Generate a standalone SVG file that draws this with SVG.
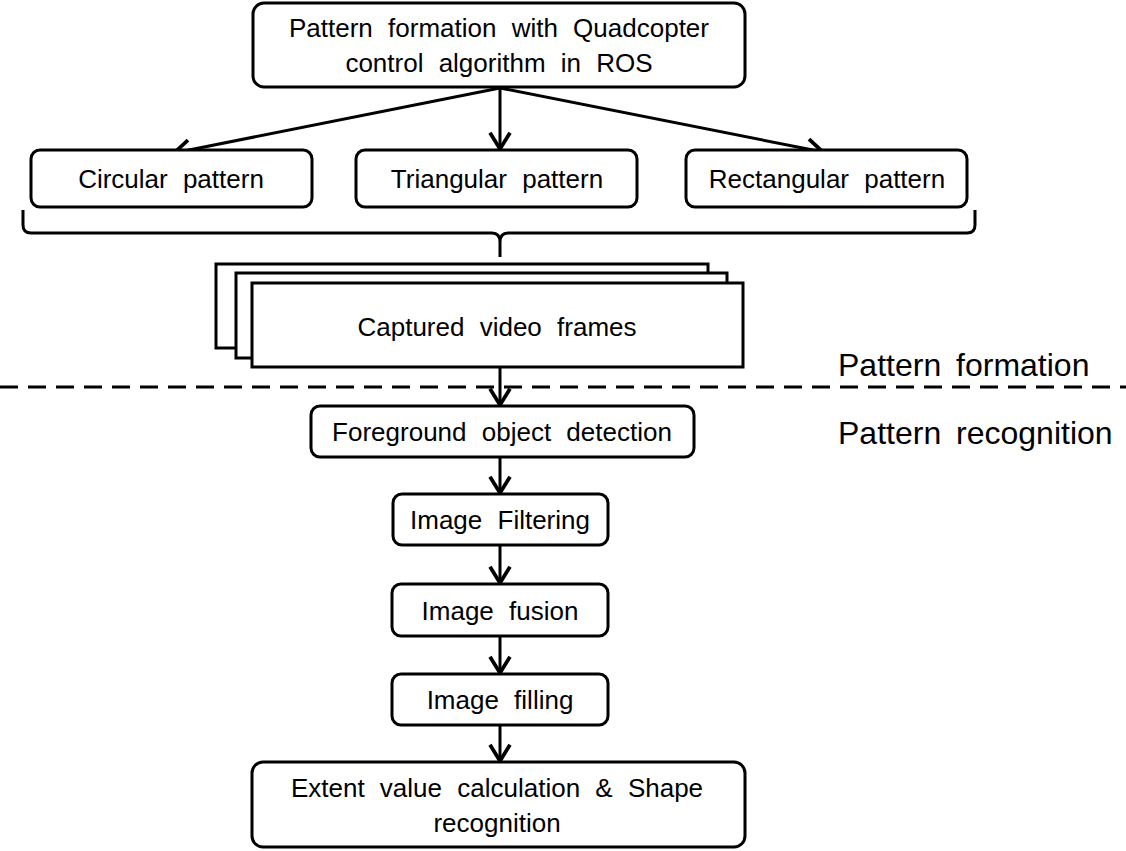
<svg xmlns="http://www.w3.org/2000/svg" width="1126" height="851" viewBox="0 0 1126 851">
<defs>
<style>
.box{fill:#fff;stroke:#000;stroke-width:3}
.frame{fill:#fff;stroke:#000;stroke-width:3}
.t{font-family:"Liberation Sans",Arial,sans-serif;font-size:26px;fill:#000;text-anchor:middle;word-spacing:8px}
.side{font-family:"Liberation Sans",Arial,sans-serif;font-size:32px;fill:#000;word-spacing:6px}
.con{fill:none;stroke:#000;stroke-width:3}
</style>
<marker id="arr" markerUnits="userSpaceOnUse" markerWidth="30" markerHeight="30" viewBox="-16 -12 20 24" refX="0" refY="0" orient="auto">
<path d="M-13,-8 L0,0 L-13,8" fill="none" stroke="#000" stroke-width="3" stroke-linejoin="miter"/>
</marker>
</defs>
<rect width="1126" height="851" fill="#fff"/>

<g id="connectors">
<line class="con" x1="500" y1="88" x2="500" y2="149" marker-end="url(#arr)"/>
<line class="con" x1="500" y1="88" x2="174" y2="153" marker-end="url(#arr)"/>
<line class="con" x1="500" y1="88" x2="823" y2="152" marker-end="url(#arr)"/>
<path class="con" d="M23,210 L23,225 Q23,233 31,233 L492,233 Q500,233 500,242 L500,257 M975,210 L975,225 Q975,233 967,233 L508,233 Q500,233 500,242"/>
<line class="con" x1="500" y1="367" x2="500" y2="405" marker-end="url(#arr)"/>
<line class="con" x1="500" y1="457" x2="500" y2="493" marker-end="url(#arr)"/>
<line class="con" x1="500" y1="545" x2="500" y2="583" marker-end="url(#arr)"/>
<line class="con" x1="500" y1="636" x2="500" y2="673" marker-end="url(#arr)"/>
<line class="con" x1="500" y1="725" x2="500" y2="761" marker-end="url(#arr)"/>
</g>

<g id="divider">
<line x1="0" y1="387" x2="1126" y2="387" stroke="#000" stroke-width="3" stroke-dasharray="18 10"/>
<text class="side" x="838" y="376">Pattern formation</text>
<text class="side" x="838" y="444">Pattern recognition</text>
</g>

<g id="node-top">
<rect class="box" x="253" y="3" width="492" height="84" rx="11"/>
<text class="t" x="499" y="37">Pattern formation with Quadcopter</text>
<text class="t" x="499" y="72">control algorithm in ROS</text>
</g>

<g id="node-circular">
<rect class="box" x="31" y="150" width="281" height="57" rx="9"/>
<text class="t" x="171" y="188">Circular pattern</text>
</g>

<g id="node-triangular">
<rect class="box" x="356" y="150" width="281" height="57" rx="9"/>
<text class="t" x="497" y="188">Triangular pattern</text>
</g>

<g id="node-rectangular">
<rect class="box" x="686" y="150" width="281" height="57" rx="9"/>
<text class="t" x="827" y="188">Rectangular pattern</text>
</g>

<g id="node-frames">
<rect class="frame" x="216" y="264" width="492" height="84"/>
<rect class="frame" x="236" y="273" width="491" height="85"/>
<rect class="frame" x="252" y="283" width="491" height="84"/>
<text class="t" x="497" y="336">Captured video frames</text>
</g>

<g id="node-foreground">
<rect class="box" x="311" y="406" width="383" height="51" rx="9"/>
<text class="t" x="502" y="441">Foreground object detection</text>
</g>

<g id="node-filtering">
<rect class="box" x="393" y="494" width="215" height="51" rx="9"/>
<text class="t" x="500" y="529">Image Filtering</text>
</g>

<g id="node-fusion">
<rect class="box" x="392" y="584" width="216" height="52" rx="9"/>
<text class="t" x="500" y="620">Image fusion</text>
</g>

<g id="node-filling">
<rect class="box" x="392" y="674" width="216" height="51" rx="9"/>
<text class="t" x="500" y="709">Image filling</text>
</g>

<g id="node-extent">
<rect class="box" x="252" y="762" width="493" height="85" rx="11"/>
<text class="t" x="497" y="797">Extent value calculation &amp; Shape</text>
<text class="t" x="497" y="832">recognition</text>
</g>
</svg>
